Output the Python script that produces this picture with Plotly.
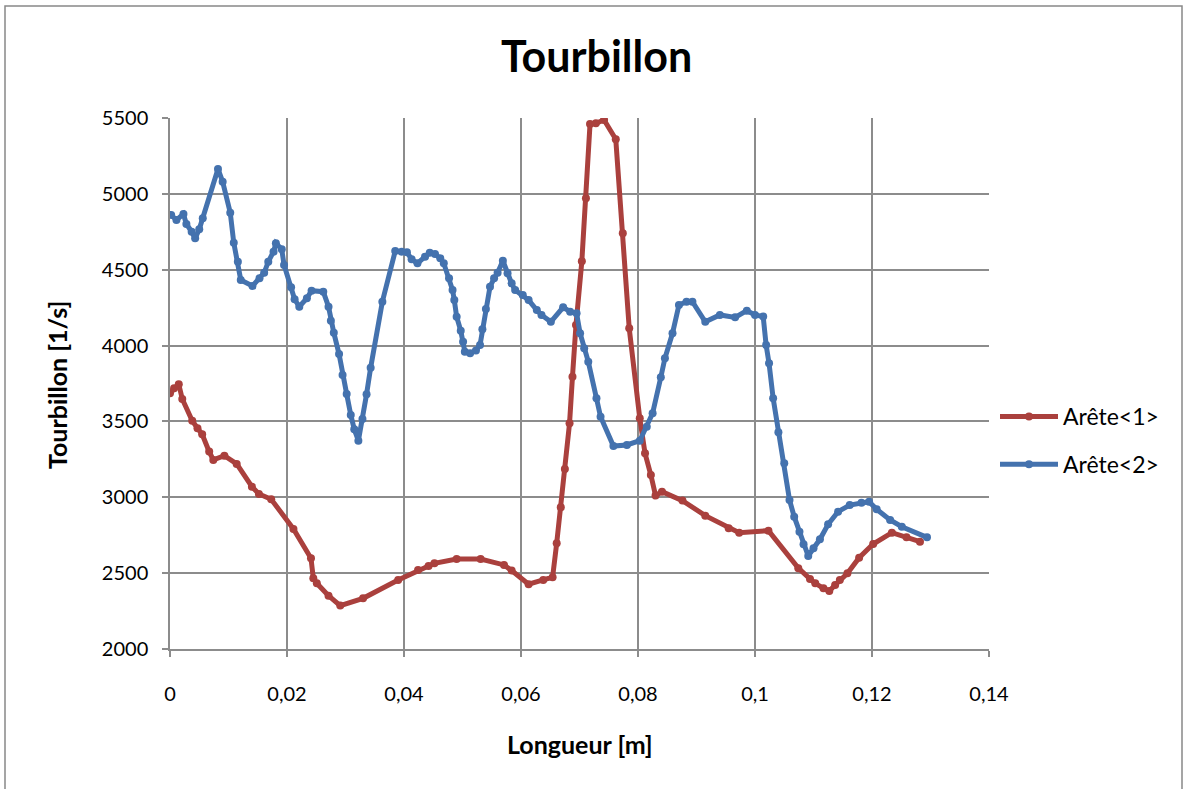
import plotly.graph_objects as go

# Longueur [m] / Tourbillon [1/s] along each edge
x_arete1 = [0.0000, 0.0007, 0.0015, 0.0021, 0.0038, 0.0047, 0.0055, 0.0067, 0.0074, 0.0093,
            0.0114, 0.0140, 0.0152, 0.0173, 0.0211, 0.0241, 0.0245, 0.0251, 0.0271, 0.0291,
            0.0330, 0.0390, 0.0424, 0.0442, 0.0452, 0.0490, 0.0531, 0.0571, 0.0584, 0.0613,
            0.0638, 0.0654, 0.0661, 0.0668, 0.0675, 0.0683, 0.0688, 0.0694, 0.0704, 0.0711,
            0.0718, 0.0728, 0.0742, 0.0762, 0.0774, 0.0785, 0.0803, 0.0812, 0.0822, 0.0830,
            0.0841, 0.0876, 0.0915, 0.0955, 0.0973, 0.1023, 0.1074, 0.1094, 0.1103, 0.1117,
            0.1127, 0.1137, 0.1145, 0.1158, 0.1178, 0.1202, 0.1234, 0.1259, 0.1282]
y_arete1 = [3685, 3718, 3745, 3648, 3505, 3455, 3415, 3301, 3246, 3274,
            3220, 3070, 3022, 2987, 2791, 2598, 2466, 2433, 2351, 2286,
            2334, 2455, 2521, 2547, 2565, 2593, 2593, 2554, 2517, 2427,
            2455, 2473, 2697, 2934, 3187, 3488, 3795, 4136, 4556, 4971,
            5460, 5465, 5487, 5360, 4740, 4114, 3521, 3290, 3147, 3011,
            3037, 2978, 2879, 2796, 2767, 2780, 2533, 2462, 2433, 2400,
            2382, 2422, 2455, 2499, 2602, 2692, 2767, 2736, 2707]

x_arete2 = [0.0002, 0.0011, 0.0023, 0.0028, 0.0037, 0.0043, 0.0050, 0.0056, 0.0082, 0.0090,
            0.0103, 0.0109, 0.0116, 0.0121, 0.0141, 0.0153, 0.0161, 0.0168, 0.0177, 0.0181,
            0.0191, 0.0195, 0.0207, 0.0213, 0.0221, 0.0234, 0.0242, 0.0262, 0.0271, 0.0275,
            0.0280, 0.0289, 0.0295, 0.0302, 0.0309, 0.0315, 0.0322, 0.0329, 0.0336, 0.0343,
            0.0363, 0.0385, 0.0396, 0.0405, 0.0413, 0.0423, 0.0436, 0.0444, 0.0453, 0.0462,
            0.0468, 0.0477, 0.0483, 0.0486, 0.0490, 0.0497, 0.0501, 0.0504, 0.0513, 0.0523,
            0.0530, 0.0534, 0.0540, 0.0547, 0.0554, 0.0560, 0.0569, 0.0577, 0.0584, 0.0590,
            0.0603, 0.0613, 0.0627, 0.0635, 0.0651, 0.0672, 0.0684, 0.0695, 0.0701, 0.0708,
            0.0715, 0.0729, 0.0736, 0.0758, 0.0781, 0.0803, 0.0815, 0.0825, 0.0839, 0.0846,
            0.0859, 0.0870, 0.0883, 0.0893, 0.0915, 0.0940, 0.0966, 0.0986, 0.1000, 0.1014,
            0.1019, 0.1024, 0.1031, 0.1040, 0.1050, 0.1059, 0.1067, 0.1076, 0.1083, 0.1091,
            0.1100, 0.1111, 0.1125, 0.1142, 0.1162, 0.1182, 0.1195, 0.1208, 0.1231, 0.1251,
            0.1294]
y_arete2 = [4861, 4828, 4867, 4801, 4751, 4707, 4766, 4839, 5164, 5080,
            4876, 4678, 4553, 4432, 4393, 4443, 4480, 4553, 4619, 4674,
            4635, 4531, 4384, 4305, 4256, 4312, 4362, 4355, 4256, 4164,
            4085, 3944, 3806, 3681, 3543, 3448, 3373, 3516, 3679, 3854,
            4289, 4623, 4619, 4615, 4569, 4542, 4586, 4612, 4604, 4575,
            4542, 4443, 4366, 4300, 4190, 4098, 4026, 3960, 3949, 3967,
            4004, 4107, 4241, 4388, 4443, 4480, 4559, 4476, 4410, 4366,
            4333, 4300, 4234, 4202, 4157, 4252, 4223, 4213, 4081, 3982,
            3894, 3653, 3531, 3338, 3345, 3373, 3465, 3554, 3791, 3916,
            4081, 4267, 4289, 4289, 4157, 4202, 4186, 4230, 4202, 4191,
            4004, 3883, 3653, 3428, 3224, 2982, 2872, 2773, 2690, 2613,
            2664, 2723, 2822, 2905, 2949, 2964, 2971, 2921, 2850, 2806,
            2736]

x_ticks = [0, 0.02, 0.04, 0.06, 0.08, 0.1, 0.12, 0.14]
x_tick_text = ["0", "0,02", "0,04", "0,06", "0,08", "0,1", "0,12", "0,14"]
y_ticks = [2000, 2500, 3000, 3500, 4000, 4500, 5000, 5500]

RED = "#AA403D"
BLUE = "#4472AE"
GRID = "#8C8C8C"
FONT = "Lato, 'Open Sans', sans-serif"

fig = go.Figure()
fig.add_trace(go.Scatter(
    x=x_arete1, y=y_arete1, mode="lines+markers", name="Arête<1>",
    legendgroup="a1",
    line=dict(color=RED, width=5), marker=dict(color=RED, size=8),
))
fig.add_trace(go.Scatter(
    x=x_arete2, y=y_arete2, mode="lines+markers", name="Arête<2>",
    legendgroup="a2",
    line=dict(color=BLUE, width=5), marker=dict(color=BLUE, size=8),
))

W, H = 1186, 789
L, R, T, B = 170, 197, 118, 140
pw, ph = W - L - R, H - T - B

def px_to_paper(px, py):
    return (px - L) / pw, (H - B - py) / ph

fig.update_layout(
    width=W, height=H,
    margin=dict(l=L, r=R, t=T, b=B),
    paper_bgcolor="white", plot_bgcolor="white",
    font=dict(family=FONT, size=20, color="black"),
    title=dict(text="<b>Tourbillon</b>", x=0.503, xanchor="center",
               y=1 - 57 / H, yanchor="middle",
               font=dict(family=FONT, size=43, color="black")),
    showlegend=True,
    legend=dict(x=px_to_paper(995, 0)[0], y=px_to_paper(0, 395)[1],
                xanchor="left", yanchor="top", itemwidth=58,
                font=dict(family=FONT, size=23, color="black"),
                tracegroupgap=15, bgcolor="rgba(0,0,0,0)"),
    xaxis=dict(range=[0, 0.14], tickvals=x_ticks, ticktext=x_tick_text,
               showgrid=True, gridcolor=GRID, gridwidth=1.5,
               showline=True, linecolor=GRID, linewidth=1.5,
               ticks="outside", ticklen=6, tickcolor=GRID, tickwidth=1.5,
               ticklabelstandoff=20, zeroline=False,
               tickfont=dict(family=FONT, size=20, color="black")),
    yaxis=dict(range=[2000, 5500], tickvals=y_ticks,
               showgrid=True, gridcolor=GRID, gridwidth=1.5,
               showline=True, linecolor=GRID, linewidth=1.5,
               ticks="outside", ticklen=6, tickcolor=GRID, tickwidth=1.5,
               ticklabelstandoff=10, zeroline=False,
               tickfont=dict(family=FONT, size=20, color="black")),
)

# Axis titles
ax, ay = px_to_paper(580, 744)
fig.add_annotation(text="<b>Longueur [m]</b>", x=ax, y=ay, xref="paper", yref="paper",
                   showarrow=False, xanchor="center", yanchor="middle",
                   font=dict(family=FONT, size=25, color="black"))
bx, by = px_to_paper(57, 385)
fig.add_annotation(text="<b>Tourbillon [1/s]</b>", x=bx, y=by, xref="paper", yref="paper",
                   showarrow=False, xanchor="center", yanchor="middle", textangle=-90,
                   font=dict(family=FONT, size=25, color="black"))

# Outer chart frame
x0, y0 = px_to_paper(5, 6)
x1, y1 = px_to_paper(1182, 800)
fig.add_shape(type="rect", xref="paper", yref="paper", x0=x0, y0=y1, x1=x1, y1=y0,
              line=dict(color="#888888", width=1.5), fillcolor="rgba(0,0,0,0)", layer="below")

fig.write_html("out.html")
